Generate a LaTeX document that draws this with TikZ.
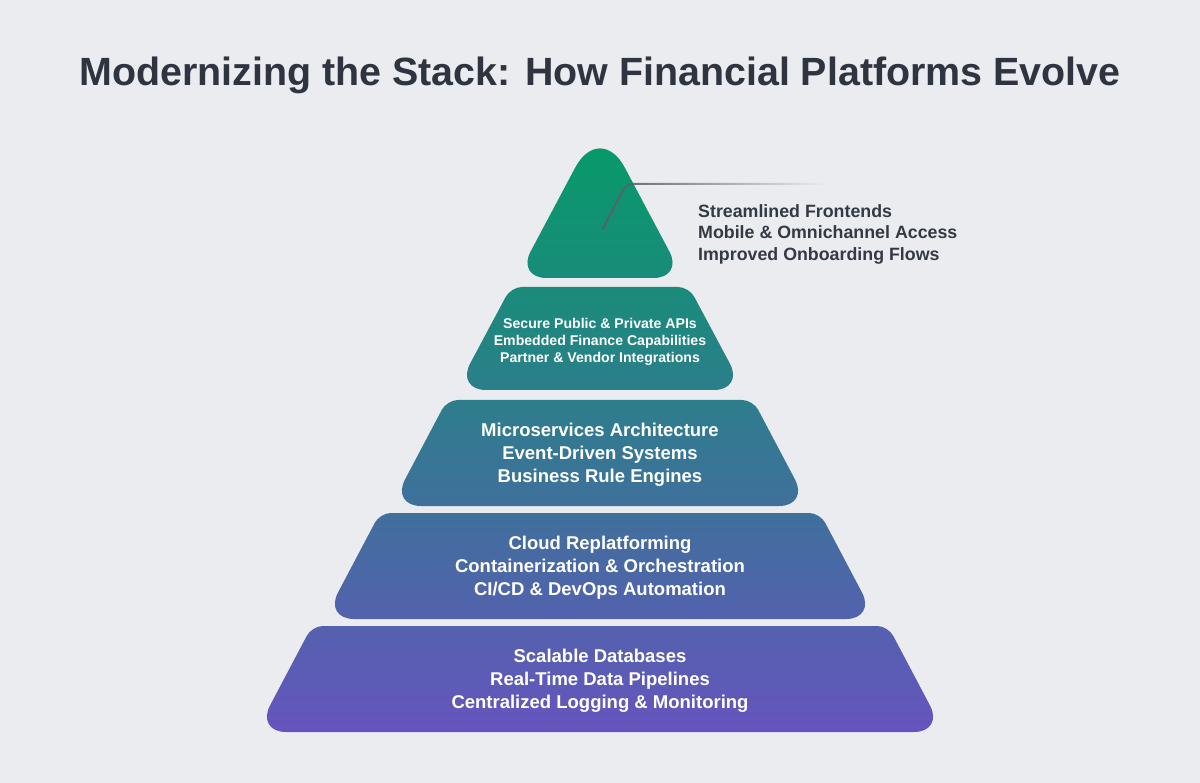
\documentclass[tikz,border=0pt]{standalone}
\usepackage{fontspec}
\setmainfont{Liberation Sans}
\usetikzlibrary{fadings}
\definecolor{bg}{HTML}{EBECF0}
\definecolor{titlec}{HTML}{2F3540}
\definecolor{labelc}{HTML}{333A44}
\definecolor{pyrG}{HTML}{039C66}
\definecolor{pyrP}{HTML}{6654BE}
\definecolor{leadc}{HTML}{5A606A}
\newcommand{\pyrtier}[7]{%
  \shade[top color=pyrP!#6!pyrG, bottom color=pyrP!#7!pyrG]
    (600,#3) [rounded corners=30] -- (600+#5,#3) [rounded corners=11]
    -- (600+#4,#2) -- (600-#4,#2) [rounded corners=30] -- (600-#5,#3)
    -- cycle;
  \coordinate (#1) at (600,{(#2+#3)/2});
}
\begin{document}
\begin{tikzpicture}[x=1pt,y=-1pt,
  tierlbl/.style={text=white, font=\bfseries\fontsize{18.5}{23}\selectfont, align=center},
  smalllbl/.style={text=white, font=\bfseries\fontsize{14.1}{17}\selectfont, align=center},
  sidelbl/.style={text=labelc, font=\bfseries\fontsize{17.8}{21.5}\selectfont, align=left, anchor=west, inner sep=0pt},
  leader/.style={draw=leadc, line width=2pt, rounded corners=7, path fading=east}]
\useasboundingbox (0,0) rectangle (1200,783);
\fill[bg] (0,0) rectangle (1200,783);

\node[text=titlec, font=\bfseries\fontsize{39.4}{42}\selectfont] (title) at (600,75) {Modernizing the Stack: How Financial Platforms Evolve};

% top triangle
\shade[top color=pyrG, bottom color=pyrP!22!pyrG]
  (600,278) [rounded corners=30] -- (683.5,278) [rounded corners=53] -- (600,121)
  [rounded corners=30] -- (516.5,278) -- cycle;
\coordinate (t1) at (600,215);

\pyrtier{t2}{287}{390}{89}{144}{23}{41}
\pyrtier{t3}{400}{506}{153}{209}{43}{61}
\pyrtier{t4}{513}{619}{220}{276}{62}{81}
\pyrtier{t5}{626}{732}{288}{344}{82}{100}

\node[smalllbl] (l2) at (600,342) {Secure Public \& Private APIs\\Embedded Finance Capabilities\\Partner \& Vendor Integrations};
\node[tierlbl] (l3) at (600,455) {Microservices Architecture\\Event-Driven Systems\\Business Rule Engines};
\node[tierlbl] (l4) at (600,568) {Cloud Replatforming\\Containerization \& Orchestration\\CI/CD \& DevOps Automation};
\node[tierlbl] (l5) at (600,681) {Scalable Databases\\Real-Time Data Pipelines\\Centralized Logging \& Monitoring};

\node[sidelbl] (l1) at (698,234) {Streamlined Frontends\\Mobile \& Omnichannel Access\\Improved Onboarding Flows};

\coordinate (lstart) at (603,229);
\coordinate (lbend) at (626,184);
\coordinate (lend) at (825,184);
\draw[leader] (lstart) -- (lbend) -- (lend);
\end{tikzpicture}
\end{document}
